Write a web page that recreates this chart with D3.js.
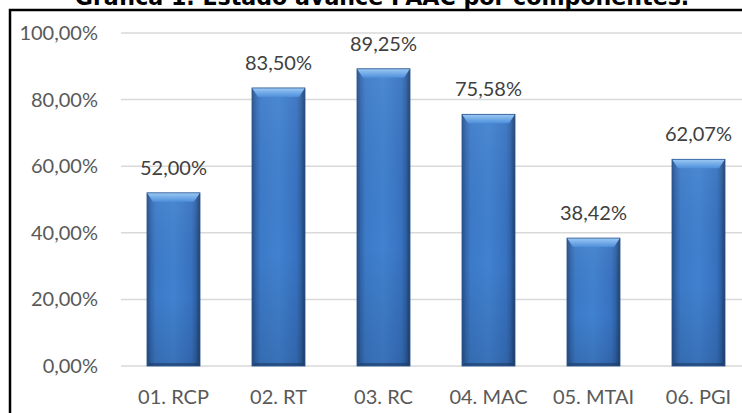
<!DOCTYPE html>
<html>
<head>
<meta charset="utf-8">
<script src="https://cdn.jsdelivr.net/npm/d3@7"></script>
<style>
  body { margin: 0; background: #fff; }
  svg { display: block; }
</style>
</head>
<body>
<svg width="742" height="413"></svg>
<script>
var categories = ["01. RCP", "02. RT", "03. RC", "04. MAC", "05. MTAI", "06. PGI"];
var values = [52.00, 83.50, 89.25, 75.58, 38.42, 62.07];
var ticks = [0, 20, 40, 60, 80, 100];
var title = "Gráfica 1. Estado avance PAAC por componentes.";

var svg = d3.select("svg"),
    width = +svg.attr("width"),
    height = +svg.attr("height");

var fmt = function(v) { return v.toFixed(2).replace(".", ",") + "%"; };

var x = d3.scaleBand()
    .domain(categories)
    .range([121, 751])
    .paddingInner(0.495)
    .paddingOuter(0.2475);

var y = d3.scaleLinear()
    .domain([0, 100])
    .range([366, 33]);

var defs = svg.append("defs");
var bodyGrad = defs.append("linearGradient").attr("id", "barBody")
    .attr("x1", "0").attr("x2", "1").attr("y1", "0").attr("y2", "0");
[["0%", "#264f87"], ["8%", "#3369b0"], ["16%", "#3c7ac8"], ["50%", "#4181d0"], ["84%", "#3772c0"], ["92%", "#2e61a5"], ["100%", "#203f6c"]]
    .forEach(function(s) { bodyGrad.append("stop").attr("offset", s[0]).attr("stop-color", s[1]); });
var shadeGrad = defs.append("linearGradient").attr("id", "barShade")
    .attr("x1", "0").attr("x2", "0").attr("y1", "0").attr("y2", "1");
[["0%", "#ffffff", 0.06], ["60%", "#000000", 0.0], ["100%", "#000000", 0.12]]
    .forEach(function(s) { shadeGrad.append("stop").attr("offset", s[0]).attr("stop-color", s[1]).attr("stop-opacity", s[2]); });
var topGrad = defs.append("linearGradient").attr("id", "barTop")
    .attr("x1", "0").attr("x2", "0").attr("y1", "0").attr("y2", "1");
[["0%", "#9ccaf5"], ["100%", "#4d8edb"]]
    .forEach(function(s) { topGrad.append("stop").attr("offset", s[0]).attr("stop-color", s[1]); });

// border
svg.append("path")
    .attr("d", "M10," + height + "V10H" + width)
    .attr("fill", "none")
    .attr("stroke", "#000")
    .attr("stroke-width", 2.5);

// title
var t = svg.append("text")
    .attr("x", 382)
    .attr("y", 5)
    .attr("text-anchor", "middle")
    .attr("font-family", "DejaVu Sans")
    .attr("font-weight", "bold")
    .attr("font-size", 20)
    .attr("fill", "#000")
    .text(title);
var tw = t.node().getComputedTextLength();
t.attr("font-size", 20 * 615 / tw);

// grid
svg.append("g").selectAll("line")
    .data(ticks)
    .enter().append("line")
    .attr("x1", 121).attr("x2", width)
    .attr("y1", function(d) { return y(d); })
    .attr("y2", function(d) { return y(d); })
    .attr("stroke", "#d9d9d9")
    .attr("stroke-width", 1.5);

// y labels
svg.append("g").selectAll("text")
    .data(ticks)
    .enter().append("text")
    .attr("x", 98)
    .attr("y", function(d) { return y(d); })
    .attr("dy", "0.35em")
    .attr("text-anchor", "end")
    .attr("font-family", "Lato")
    .attr("font-size", 20)
    .attr("fill", "#595959")
    .text(function(d) { return fmt(d); });

// bars
var bw = x.bandwidth(), bev = 9, side = 6;
var bar = svg.append("g").selectAll("g")
    .data(values)
    .enter().append("g")
    .attr("transform", function(d, i) { return "translate(" + x(categories[i]) + ",0)"; });

bar.append("rect")
    .attr("x", 0)
    .attr("y", function(d) { return y(d); })
    .attr("width", bw)
    .attr("height", function(d) { return y(0) - y(d); })
    .attr("fill", "url(#barBody)");
bar.append("rect")
    .attr("x", 0)
    .attr("y", function(d) { return y(d); })
    .attr("width", bw)
    .attr("height", function(d) { return y(0) - y(d); })
    .attr("fill", "url(#barShade)");
bar.append("path")
    .attr("d", function(d) {
        var t0 = y(d);
        return "M0," + t0 + "H" + bw + "L" + (bw - side) + "," + (t0 + bev) + "H" + side + "Z";
    })
    .attr("fill", "url(#barTop)");
bar.append("path")
    .attr("d", function(d) {
        var b = y(0);
        return "M0," + b + "H" + bw + "L" + (bw - 3) + "," + (b - 3) + "H3Z";
    })
    .attr("fill", "#1d3b66")
    .attr("opacity", 0.6);
bar.append("rect")
    .attr("x", 0)
    .attr("y", function(d) { return y(d); })
    .attr("width", bw)
    .attr("height", function(d) { return y(0) - y(d); })
    .attr("fill", "none")
    .attr("stroke", "#2a5590")
    .attr("stroke-width", 0.8);

// value labels
svg.append("g").selectAll("text")
    .data(values)
    .enter().append("text")
    .attr("x", function(d, i) { return x(categories[i]) + bw / 2; })
    .attr("y", function(d) { return y(d) - 18; })
    .attr("text-anchor", "middle")
    .attr("font-family", "Lato")
    .attr("font-size", 20)
    .attr("fill", "#404040")
    .text(function(d) { return fmt(d); });

// x labels
svg.append("g").selectAll("text")
    .data(categories)
    .enter().append("text")
    .attr("x", function(d) { return x(d) + bw / 2; })
    .attr("y", 404)
    .attr("text-anchor", "middle")
    .attr("font-family", "Lato")
    .attr("font-size", 20)
    .attr("fill", "#595959")
    .text(function(d) { return d; });
</script>
</body>
</html>
